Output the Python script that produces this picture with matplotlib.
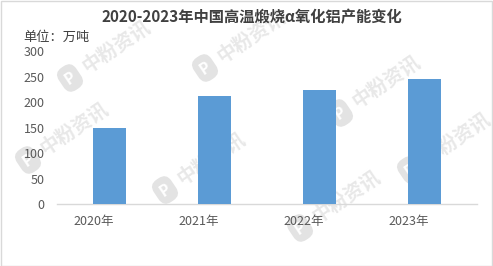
import matplotlib
matplotlib.use("Agg")
import matplotlib.pyplot as plt
import numpy as np

plt.rcParams['font.family'] = ['Noto Sans CJK SC', 'DejaVu Sans']

# 数据
years = ['2020年', '2021年', '2022年', '2023年']
capacity = [150, 213, 224, 246]
title = '2020-2023年中国高温煅烧α氧化铝产能变化'
unit_label = '单位：万吨'
yticks = [0, 50, 100, 150, 200, 250, 300]

W, H = 493, 266
fig = plt.figure(figsize=(W / 100, H / 100), dpi=100)
fig.patch.set_facecolor('white')

# 水印 (logo位置, 像素坐标)
wm_logos = [(70, 78), (205, 68), (28, 160), (165, 190), (340, 113),
            (300, 228), (410, 170)]
ang = 34
d = np.array([np.cos(np.radians(ang)), np.sin(np.radians(ang))])
for lx, ly in wm_logos:
    fx, fy = lx / W, 1 - ly / H
    fig.text(fx, fy, 'P', rotation=ang, color='white', fontsize=11,
             fontweight='bold', ha='center', va='center', zorder=-2,
             bbox=dict(boxstyle='round,pad=0.35,rounding_size=0.6',
                       fc='#e3e3e3', ec='none'))
    tx = lx + d[0] * 56
    ty = ly - d[1] * 56
    fig.text(tx / W, 1 - ty / H, '中粉资讯', rotation=ang, color='#e8e8e8',
             fontsize=14, fontweight='bold', ha='center', va='center',
             rotation_mode='anchor', zorder=-2)

ax = fig.add_axes([57 / W, 1 - 204 / H, 420 / W, 152.5 / H])
ax.patch.set_alpha(0)
x = np.arange(len(years))
ax.bar(x, capacity, width=0.317, color='#5b9bd5', zorder=3)

ax.set_xlim(-0.5, len(years) - 0.5)
ax.set_ylim(0, 300)
ax.set_yticks(yticks)
ax.set_xticks(x - 0.152)
ax.set_xticklabels(years)
ax.tick_params(axis='both', length=0, labelsize=9, labelcolor='#595959')
ax.tick_params(axis='y', pad=9)
ax.tick_params(axis='x', pad=8)
for s in ['top', 'right', 'left']:
    ax.spines[s].set_visible(False)
ax.spines['bottom'].set_color('#d9d9d9')
ax.spines['bottom'].set_linewidth(1)

fig.text(252 / W, 1 - 17 / H, title, ha='center', va='center',
         fontsize=11, fontweight='bold', color='#404040')
fig.text(23 / W, 1 - 37 / H, unit_label, ha='left', va='center',
         fontsize=9.5, color='#404040')

# 边框
fig.add_artist(plt.Rectangle((0.5 / W, 0.5 / H), 1 - 1.5 / W, 1 - 1.5 / H,
                             transform=fig.transFigure, fill=False,
                             ec='#d9d9d9', lw=1))

fig.savefig('out.png', dpi=100)
